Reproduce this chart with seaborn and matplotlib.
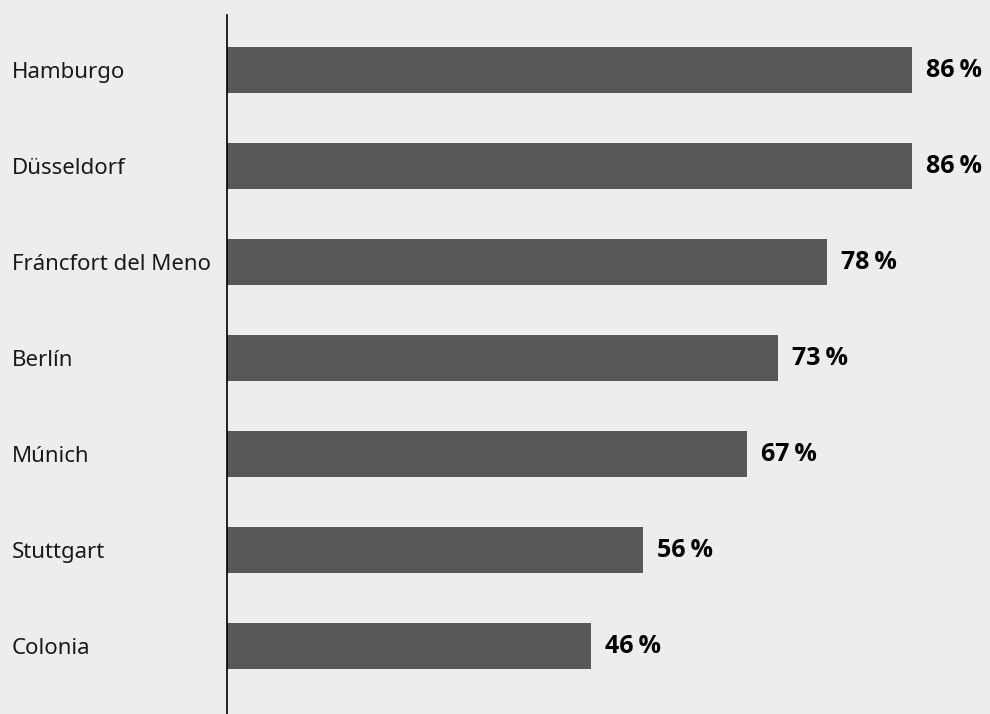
import seaborn as sns
import matplotlib.pyplot as plt
import pandas as pd

# ciudades y longitudes de barra
cities = ['Hamburgo', 'Düsseldorf', 'Fráncfort del Meno', 'Berlín', 'Múnich', 'Stuttgart', 'Colonia']
values = [86, 86, 75.3, 69.2, 65.3, 52.2, 45.7]
labels = ['86\u2009%', '86\u2009%', '78\u2009%', '73\u2009%', '67\u2009%', '56\u2009%', '46\u2009%']

df = pd.DataFrame({'Ciudad': cities, 'Valor': values})

sns.set_style('white')
plt.rcParams['font.family'] = ['Noto Sans', 'DejaVu Sans']

bg = '#ededed'
fig = plt.figure(figsize=(9.9, 7.14), dpi=100, facecolor=bg)
ax = fig.add_axes([227 / 990, 0, 1 - 227 / 990, 1 - 15 / 714])
ax.set_facecolor(bg)

sns.barplot(data=df, x='Valor', y='Ciudad', color='#585856', saturation=1,
            width=0.48, orient='h', linewidth=0, ax=ax)

ax.bar_label(ax.containers[0], labels=labels, padding=10,
             fontsize=18, fontweight='bold', color='#000000',
             family=['Open Sans', 'Lato', 'DejaVu Sans'])

ax.set_xlim(0, 95.8)
ax.set_ylim(6.708, -0.573)
ax.set_xlabel('')
ax.set_ylabel('')
ax.set_xticks([])

# etiquetas de ciudades alineadas a la izquierda
ax.tick_params(axis='y', length=0, pad=155, labelsize=16, labelcolor='#1a1a1a')
for t in ax.get_yticklabels():
    t.set_ha('left')

for s in ['top', 'right', 'bottom']:
    ax.spines[s].set_visible(False)
ax.spines['left'].set_color('#000000')
ax.spines['left'].set_linewidth(1.2)

plt.savefig('out.png', dpi=100, facecolor=bg)
